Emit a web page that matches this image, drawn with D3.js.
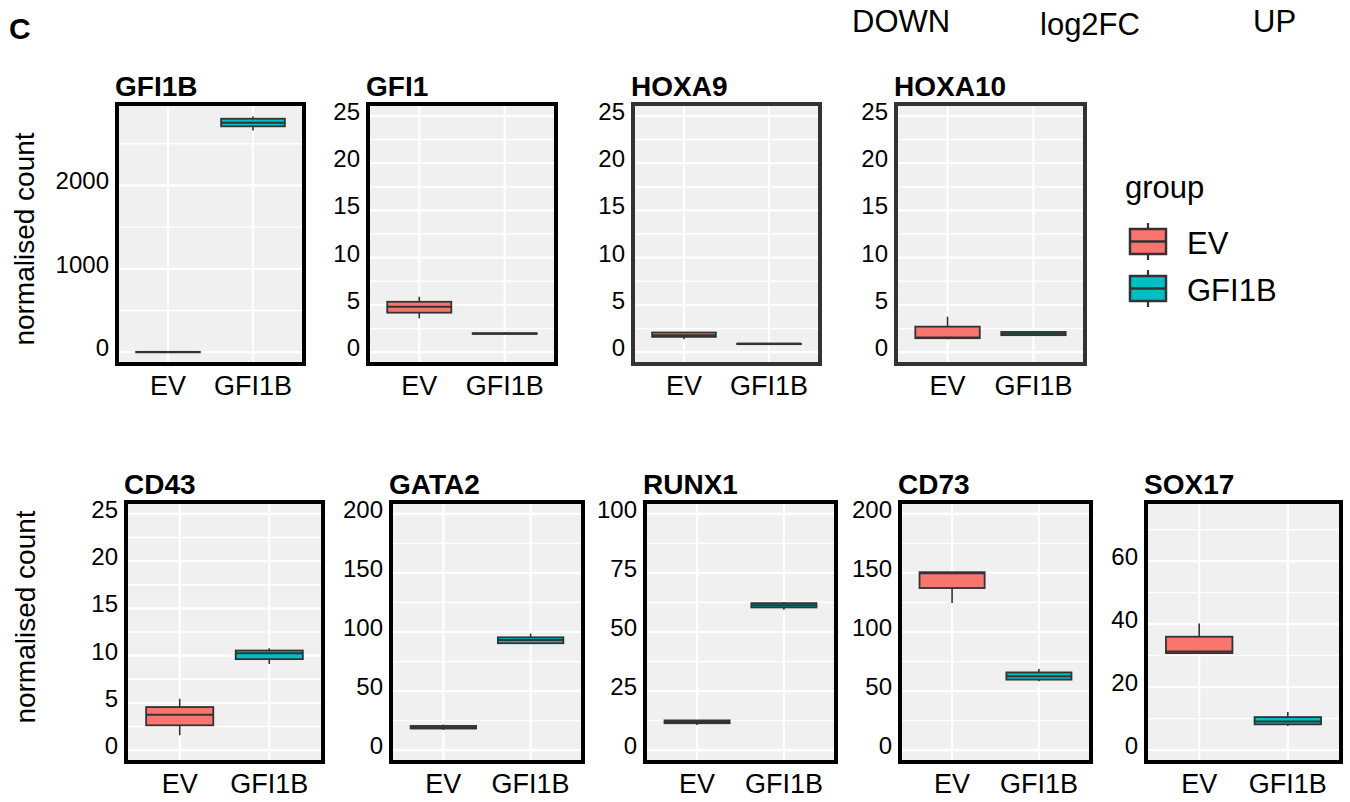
<!DOCTYPE html>
<html>
<head>
<meta charset="utf-8">
<script src="https://cdn.jsdelivr.net/npm/d3@7"></script>
<style>
  body { margin: 0; background: #fff; }
  svg { display: block; }
  text { font-family: "Liberation Sans", Arial, sans-serif; fill: #000; }
</style>
</head>
<body>
<div id="chart"></div>
<script>
// genes shown, one panel each
const genes = ['GFI1B', 'GFI1', 'HOXA9', 'HOXA10', 'CD43', 'GATA2', 'RUNX1', 'CD73', 'SOX17'];
const groups = ['EV', 'GFI1B'];

// box stats per gene: [min, q1, median, q3, max]
const evStats = [
  [1, 2, 3, 4, 6],
  [3.58, 4.18, 4.8, 5.33, 5.86],
  [1.37, 1.62, 1.8, 2.08, 2.1],
  [1.37, 1.48, 1.55, 2.7, 3.76],
  [1.58, 2.63, 3.76, 4.56, 5.44],
  [17.1, 18.3, 19.4, 20.5, 21.7],
  [10.7, 11.4, 11.9, 12.6, 12.6],
  [124.6, 137.2, 149.8, 150.6, 150.6],
  [30.6, 30.8, 31.3, 36.0, 40.2]
];
const gfi1bStats = [
  [2658, 2709, 2753, 2800, 2828],
  [1.9, 1.93, 1.97, 2.0, 2.1],
  [0.85, 0.87, 0.88, 0.9, 0.92],
  [1.79, 1.8, 1.97, 2.14, 2.25],
  [9.11, 9.63, 10.26, 10.54, 10.78],
  [89.7, 90.5, 93.3, 95.5, 98.6],
  [59.4, 60.4, 61.3, 62.2, 62.7],
  [58.3, 59.7, 62.5, 65.8, 68.7],
  [7.7, 8.2, 9.1, 10.5, 12.1]
];

// y limits per panel (before the 5% expansion) and tick labels
const yLimits = [[0, 2835], [0, 25], [0, 25], [0, 25], [0, 25], [0, 200], [0, 100], [0, 200], [0, 75]];
const yTicks = [
  [0, 1000, 2000],
  [0, 5, 10, 15, 20, 25],
  [0, 5, 10, 15, 20, 25],
  [0, 5, 10, 15, 20, 25],
  [0, 5, 10, 15, 20, 25],
  [0, 50, 100, 150, 200],
  [0, 25, 50, 75, 100],
  [0, 50, 100, 150, 200],
  [0, 20, 40, 60]
];
const groupColors = ['#F8766D', '#00BFC4'];

// panel placement (outer edges of the border)
const rows = [{ y0: 102, y1: 366 }, { y0: 500, y1: 764 }];
const layout = [
  { x0: 115, x1: 306, row: 0, border: '#000' },
  { x0: 366, x1: 558, row: 0, border: '#000' },
  { x0: 631, x1: 822, row: 0, border: '#333' },
  { x0: 894, x1: 1087, row: 0, border: '#333' },
  { x0: 124, x1: 325, row: 1, border: '#000' },
  { x0: 389, x1: 585, row: 1, border: '#000' },
  { x0: 643, x1: 838, row: 1, border: '#000' },
  { x0: 898, x1: 1093, row: 1, border: '#000' },
  { x0: 1144, x1: 1343, row: 1, border: '#000' }
];

const width = 1350, height = 802;
const bw = 4; // panel border width

const svg = d3.select('#chart')
  .append('svg')
  .attr('width', width)
  .attr('height', height);

// header bits
svg.append('text').attr('x', 9).attr('y', 39)
  .attr('font-size', '30px').attr('font-weight', 'bold').text('C');
svg.append('text').attr('x', 852).attr('y', 32).attr('font-size', '31px').text('DOWN');
svg.append('text').attr('x', 1040).attr('y', 35).attr('font-size', '31px').text('log2FC');
svg.append('text').attr('x', 1253).attr('y', 32).attr('font-size', '31px').text('UP');

// y axis titles
[{ x: 34, y: 239 }, { x: 35, y: 617 }].forEach(p => {
  svg.append('text')
    .attr('transform', `translate(${p.x},${p.y}) rotate(-90)`)
    .attr('text-anchor', 'middle')
    .attr('font-size', '28px')
    .text('normalised count');
});

genes.forEach((gene, i) => {
  const L = layout[i];
  const r = rows[L.row];
  const px0 = L.x0 + bw / 2, px1 = L.x1 - bw / 2;
  const py0 = r.y0 + bw / 2, py1 = r.y1 - bw / 2;

  const lim = yLimits[i];
  const pad = (lim[1] - lim[0]) * 0.05;
  const yScale = d3.scaleLinear().domain([lim[0] - pad, lim[1] + pad]).range([py1, py0]);
  const xScale = d3.scalePoint().domain(groups).range([px0, px1]).padding(0.6);
  const boxW = xScale.step() * 0.75;

  const g = svg.append('g');

  // panel background
  g.append('rect')
    .attr('x', px0).attr('y', py0)
    .attr('width', px1 - px0).attr('height', py1 - py0)
    .attr('fill', '#f0f0f0');

  // minor grid lines halfway between the ticks
  const ticks = yTicks[i];
  const step = ticks[1] - ticks[0];
  const minor = [];
  for (let v = ticks[0] - step / 2; v < yScale.domain()[1]; v += step) {
    if (v > yScale.domain()[0]) minor.push(v);
  }
  g.selectAll('.minor').data(minor).enter().append('line')
    .attr('x1', px0).attr('x2', px1)
    .attr('y1', d => yScale(d)).attr('y2', d => yScale(d))
    .attr('stroke', '#fff').attr('stroke-width', 1.4);

  g.selectAll('.major').data(ticks).enter().append('line')
    .attr('x1', px0).attr('x2', px1)
    .attr('y1', d => yScale(d)).attr('y2', d => yScale(d))
    .attr('stroke', '#fff').attr('stroke-width', 2.2);

  g.selectAll('.vgrid').data(groups).enter().append('line')
    .attr('x1', d => xScale(d)).attr('x2', d => xScale(d))
    .attr('y1', py0).attr('y2', py1)
    .attr('stroke', '#fff').attr('stroke-width', 2.2);

  // boxplots
  const stats = [evStats[i], gfi1bStats[i]];
  groups.forEach((grp, j) => {
    const s = stats[j];
    const cx = xScale(grp);
    const bg = g.append('g');
    bg.append('line')
      .attr('x1', cx).attr('x2', cx)
      .attr('y1', yScale(s[4])).attr('y2', yScale(s[3]))
      .attr('stroke', '#333').attr('stroke-width', 1.6);
    bg.append('line')
      .attr('x1', cx).attr('x2', cx)
      .attr('y1', yScale(s[1])).attr('y2', yScale(s[0]))
      .attr('stroke', '#333').attr('stroke-width', 1.6);
    bg.append('rect')
      .attr('x', cx - boxW / 2).attr('width', boxW)
      .attr('y', yScale(s[3])).attr('height', Math.max(0.5, yScale(s[1]) - yScale(s[3])))
      .attr('fill', groupColors[j])
      .attr('stroke', '#333').attr('stroke-width', 1.8);
    bg.append('line')
      .attr('x1', cx - boxW / 2).attr('x2', cx + boxW / 2)
      .attr('y1', yScale(s[2])).attr('y2', yScale(s[2]))
      .attr('stroke', '#333').attr('stroke-width', 2);
  });

  // border
  g.append('rect')
    .attr('x', px0).attr('y', py0)
    .attr('width', px1 - px0).attr('height', py1 - py0)
    .attr('fill', 'none')
    .attr('stroke', L.border).attr('stroke-width', bw);

  // tick labels
  g.selectAll('.ylab').data(ticks).enter().append('text')
    .attr('x', L.x0 - 6)
    .attr('y', d => yScale(d) + 4)
    .attr('text-anchor', 'end')
    .attr('font-size', '24px')
    .text(d => d);

  g.selectAll('.xlab').data(groups).enter().append('text')
    .attr('x', d => xScale(d))
    .attr('y', r.y1 + 29)
    .attr('text-anchor', 'middle')
    .attr('font-size', '27px')
    .text(d => d);

  // gene title
  g.append('text')
    .attr('x', L.x0).attr('y', r.y0 - 6)
    .attr('font-size', '28px').attr('font-weight', 'bold')
    .text(gene);
});

// legend
const legend = svg.append('g');
legend.append('text').attr('x', 1125).attr('y', 198).attr('font-size', '31px').text('group');
const keyTop = [229, 276];
groups.forEach((grp, j) => {
  const ky = keyTop[j];
  const cx = 1148;
  legend.append('line')
    .attr('x1', cx).attr('x2', cx).attr('y1', ky - 6).attr('y2', ky + 31)
    .attr('stroke', '#333').attr('stroke-width', 2.2);
  legend.append('rect')
    .attr('x', 1130).attr('y', ky).attr('width', 36).attr('height', 25)
    .attr('fill', groupColors[j]).attr('stroke', '#333').attr('stroke-width', 2.5);
  legend.append('line')
    .attr('x1', 1130).attr('x2', 1166).attr('y1', ky + 12.5).attr('y2', ky + 12.5)
    .attr('stroke', '#333').attr('stroke-width', 2.5);
  legend.append('text')
    .attr('x', 1187).attr('y', ky + 25)
    .attr('font-size', '31px')
    .text(grp);
});
</script>
</body>
</html>
